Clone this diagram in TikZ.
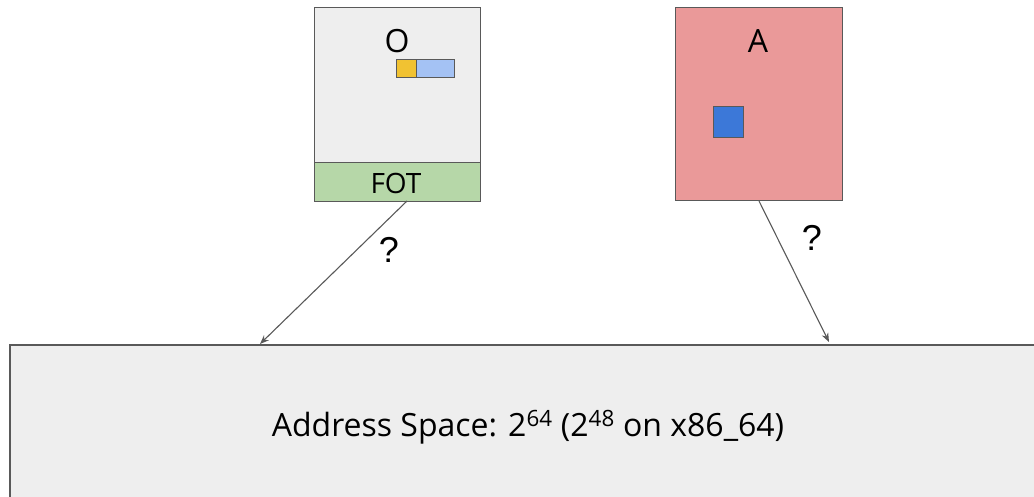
\documentclass[tikz,border=0pt]{standalone}
\usepackage{fontspec}
\setmainfont{Open Sans}
\newfontfamily\qfont{Liberation Sans}
\usetikzlibrary{arrows.meta}
\definecolor{boxgray}{HTML}{EEEEEE}
\definecolor{linegray}{HTML}{595959}
\definecolor{fotgreen}{HTML}{B6D7A8}
\definecolor{ptryellow}{HTML}{F1C232}
\definecolor{ptrblue}{HTML}{A4C2F4}
\definecolor{objred}{HTML}{EA9999}
\definecolor{sqblue}{HTML}{3C78D8}
\tikzset{
  shapebox/.style={draw=linegray, line width=1.3pt},
  lbl/.style={font=\fontsize{32}{36}\selectfont, text=black, inner sep=0pt, anchor=base},
  qlbl/.style={font=\qfont\fontsize{36}{40}\selectfont, text=black, inner sep=0pt, anchor=base},
  conn/.style={draw=linegray, line width=1.1pt, -{Stealth[length=9pt,width=7pt]}}
}
\begin{document}
\begin{tikzpicture}[x=1pt,y=-1pt]
\useasboundingbox (0,0) rectangle (1034,496);
% address space
\path[shapebox, fill=boxgray] (10,345) rectangle (1040,505);
\node[lbl] (as) at (528,436) {Address Space: 2\textsuperscript{64} (2\textsuperscript{48} on x86\_64)};
\coordinate (asl) at (260,344);
\coordinate (asr) at (829,342);
% object O
\node[shapebox, fill=boxgray, minimum width=166pt, minimum height=155pt, inner sep=0pt, anchor=north west] (o) at (314,7) {};
\node[shapebox, fill=fotgreen, minimum width=166pt, minimum height=39pt, inner sep=0pt, anchor=north west] (fot) at (314,162) {};
\node[lbl, font=\fontsize{28}{32}\selectfont] (fotl) at (396,193) {FOT};
\node[lbl] (ol) at (397,52) {O};
\node[shapebox, line width=1pt, fill=ptryellow, minimum width=20pt, minimum height=18pt, inner sep=0pt, anchor=north west] (py) at (396,59) {};
\node[shapebox, line width=1pt, fill=ptrblue, minimum width=38pt, minimum height=18pt, inner sep=0pt, anchor=north west] (pb) at (416,59) {};
% object A
\node[shapebox, fill=objred, minimum width=167pt, minimum height=193pt, inner sep=0pt, anchor=north west] (a) at (675,7) {};
\node[lbl] (al) at (758,52) {A};
\node[shapebox, line width=1pt, fill=sqblue, minimum width=30pt, minimum height=31pt, inner sep=0pt, anchor=north west] (sq) at (713,106) {};
% connectors
\coordinate (fotb) at (407,201);
\coordinate (ab) at (759,201);
\draw[conn] (fotb) -- (asl);
\draw[conn] (ab) -- (asr);
\node[qlbl] (q1) at (389,262) {?};
\node[qlbl] (q2) at (812,250) {?};
\end{tikzpicture}
\end{document}
